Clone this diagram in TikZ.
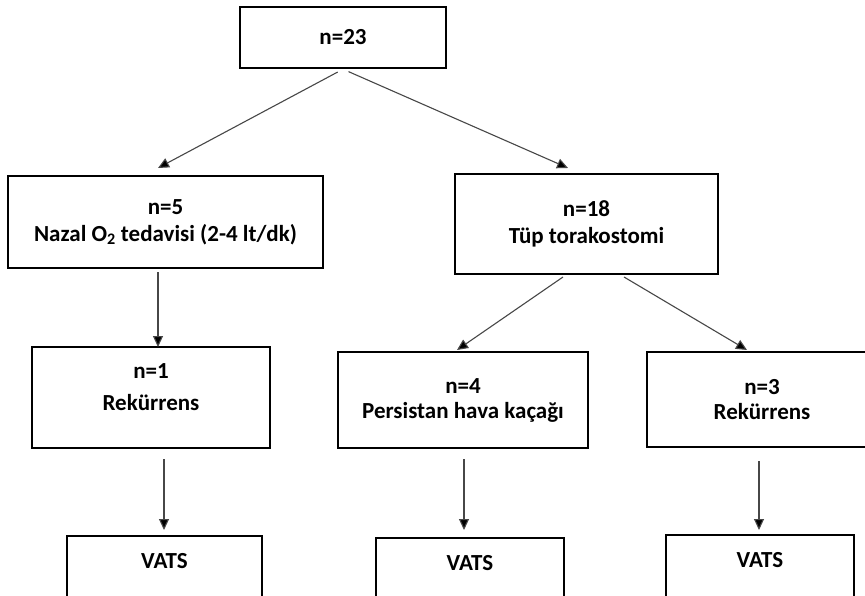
\documentclass[tikz,border=0pt]{standalone}
\usepackage{fontspec}
\setmainfont{Carlito}
\usetikzlibrary{arrows.meta}
\begin{document}
\begin{tikzpicture}[x=1pt,y=-1pt,
  box/.style={draw=black, line width=2.4pt, rectangle, inner sep=0pt, align=center,
    font=\bfseries\fontsize{23}{27}\selectfont},
  vats/.style={box, anchor=north, inner xsep=0pt, inner ysep=16pt, text height=16pt, text depth=90pt},
  arr/.style={draw=black!72, line width=1.1pt, -{Triangle[length=11pt,width=10pt,fill=black]}},
]
\clip (0,0) rectangle (865,596);
\fill[white] (0,0) rectangle (865,596);

\node[box, minimum width=206pt, minimum height=61pt] (n23) at (343,37.5) {n=23};
\node[box, minimum width=315pt, minimum height=92pt] (n5) at (165.5,222) {n=5\\Nazal O\textsubscript{2} tedavisi (2-4 lt/dk)};
\node[box, minimum width=263pt, minimum height=100pt] (n18) at (586.5,224) {n=18\\Tüp torakostomi};
\node[box, minimum width=238pt, minimum height=101pt] (n1) at (151,397.5) {n=1\\[5pt]Rekürrens\\[-6pt]\mbox{}};
\node[box, minimum width=250pt, minimum height=96pt] (n4) at (463,400) {n=4\\[-2pt]Persistan hava kaçağı};
\node[box, minimum width=230pt, minimum height=95pt] (n3) at (762,399.5) {n=3\\[-2pt]Rekürrens};
\node[vats, minimum width=195pt] (v1) at (164.5,535) {VATS};
\node[vats, minimum width=188pt] (v2) at (470,537) {VATS};
\node[vats, minimum width=188pt] (v3) at (760,534) {VATS};

% arrow end points
\coordinate (t5) at (158,168);
\coordinate (t18) at (568,168);
\coordinate (t1) at (158,347);
\coordinate (t4) at (457,350);
\coordinate (t3) at (747,350);
\coordinate (s4) at (563,277);
\coordinate (s3) at (624,277);
\coordinate (tv1) at (164,530);
\coordinate (tv2) at (464,530);
\coordinate (tv3) at (759,530);

\draw[arr, shorten <=6pt] (n23.south) -- (t5);
\draw[arr, shorten <=6pt] (n23.south) -- (t18);
\draw[arr, shorten <=3pt] (n5.south -| t1) -- (t1);
\draw[arr] (s4) -- (t4);
\draw[arr] (s3) -- (t3);
\draw[arr, shorten <=10pt] (n1.south -| tv1) -- (tv1);
\draw[arr, shorten <=10pt] (n4.south -| tv2) -- (tv2);
\draw[arr, shorten <=13pt] (n3.south -| tv3) -- (tv3);
\end{tikzpicture}
\end{document}
